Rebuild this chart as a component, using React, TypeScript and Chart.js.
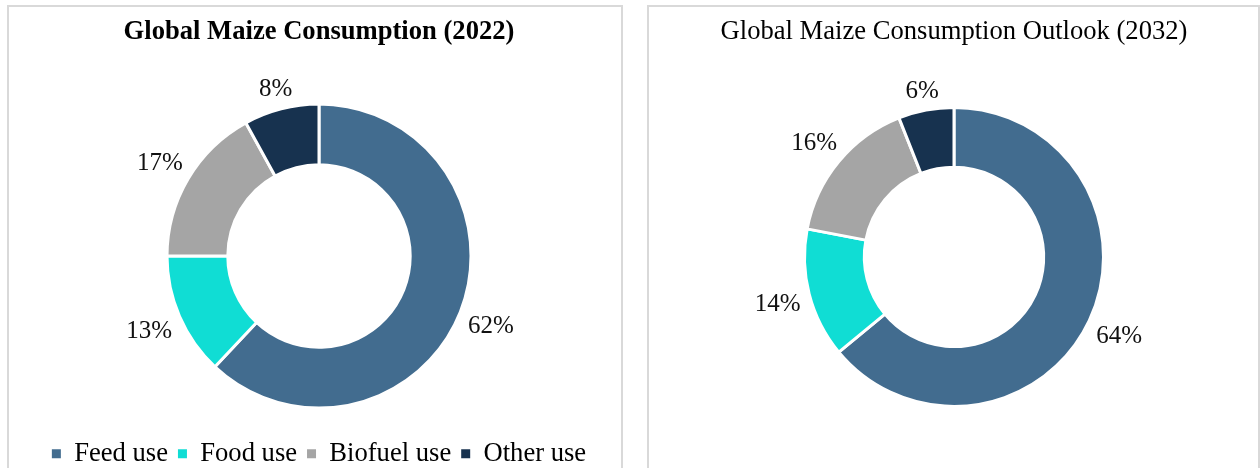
import React, { useEffect, useRef } from "react";
import { Chart, registerables } from "chart.js";

Chart.register(...registerables);

const categories = ["Feed use", "Food use", "Biofuel use", "Other use"];
const values2022 = [62, 13, 17, 8];
const values2032 = [64, 14, 16, 6];
const title2022 = "Global Maize Consumption (2022)";
const title2032 = "Global Maize Consumption Outlook (2032)";
const colors = ["#426c8f", "#10ddd4", "#a5a5a5", "#17324f"];

const FONT = "'Liberation Serif', 'Times New Roman', serif";

const outsideLabels = {
  id: "outsideLabels",
  afterDatasetsDraw(chart: any) {
    const ctx = chart.ctx;
    const meta = chart.getDatasetMeta(0);
    const data = chart.data.datasets[0].data as number[];
    ctx.save();
    ctx.font = `25px ${FONT}`;
    ctx.fillStyle = "#111";
    ctx.textAlign = "center";
    ctx.textBaseline = "middle";
    meta.data.forEach((arc: any, i: number) => {
      const p = arc.getProps(["x", "y", "startAngle", "endAngle", "outerRadius"], true);
      const mid = (p.startAngle + p.endAngle) / 2;
      const dx = Math.cos(mid);
      const dy = Math.sin(mid);
      const text = `${data[i]}%`;
      const w = ctx.measureText(text).width;
      const h = 20;
      const d = p.outerRadius + 8 + Math.abs(dx) * w / 2 + Math.abs(dy) * h / 2;
      ctx.fillText(text, p.x + dx * d, p.y + dy * d + 2);
    });
    ctx.restore();
  },
};

function Donut(props: {
  values: number[];
  title: string;
  bold: boolean;
  legend: boolean;
  width: number;
  height: number;
  radius: number;
  titleBottom: number;
  padding: any;
}) {
  const ref = useRef<HTMLCanvasElement>(null);
  useEffect(() => {
    if (!ref.current) return;
    const chart = new Chart(ref.current, {
      type: "doughnut",
      data: {
        labels: categories,
        datasets: [
          {
            data: props.values,
            backgroundColor: colors,
            borderColor: "#ffffff",
            borderWidth: 3,
            radius: props.radius,
            cutout: "60%",
          } as any,
        ],
      },
      options: {
        responsive: false,
        animation: false,
        layout: { padding: props.padding },
        plugins: {
          tooltip: { enabled: false },
          title: {
            display: true,
            text: props.title,
            color: "#000",
            font: { family: FONT, size: 26.6, weight: props.bold ? "bold" : "normal" },
            padding: { top: 9, bottom: props.titleBottom },
          },
          legend: {
            display: props.legend,
            position: "bottom",
            labels: {
              boxWidth: 9,
              boxHeight: 9,
              padding: 10,
              color: "#000",
              font: { family: FONT, size: 26.6 },
              generateLabels: (chart: any) => {
                const items = Chart.overrides.doughnut.plugins.legend.labels.generateLabels(chart);
                return items.map((it: any) => ({
                  ...it,
                  lineWidth: 0,
                  strokeStyle: it.fillStyle,
                }));
              },
            },
          },
        },
      } as any,
      plugins: [outsideLabels],
    });
    return () => chart.destroy();
  }, []);
  return (
    <canvas
      ref={ref}
      width={props.width}
      height={props.height}
      style={{ position: "absolute", left: 0, top: 0, width: props.width, height: props.height }}
    />
  );
}

export default function App() {
  const panel: React.CSSProperties = {
    position: "absolute",
    top: 5,
    height: 500,
    boxSizing: "border-box",
    border: "2px solid #d9d9d9",
    background: "#fff",
  };
  return (
    <div
      style={{
        position: "absolute",
        left: 0,
        top: 0,
        width: 1260,
        height: 468,
        overflow: "hidden",
        background: "#fff",
      }}
    >
      <div style={{ ...panel, left: 7, width: 616 }}>
        <Donut
          values={values2022}
          title={title2022}
          bold={true}
          legend={true}
          width={612}
          height={474}
          radius={152}
          titleBottom={33.7}
          padding={{ left: 8, right: 0, top: 0, bottom: 4 }}
        />
      </div>
      <div style={{ ...panel, left: 647, width: 613 }}>
        <Donut
          values={values2032}
          title={title2032}
          bold={false}
          legend={false}
          width={609}
          height={474}
          radius={149.5}
          titleBottom={39.9}
          padding={{ left: 1, right: 0, top: 0, bottom: 55 }}
        />
      </div>
    </div>
  );
}
